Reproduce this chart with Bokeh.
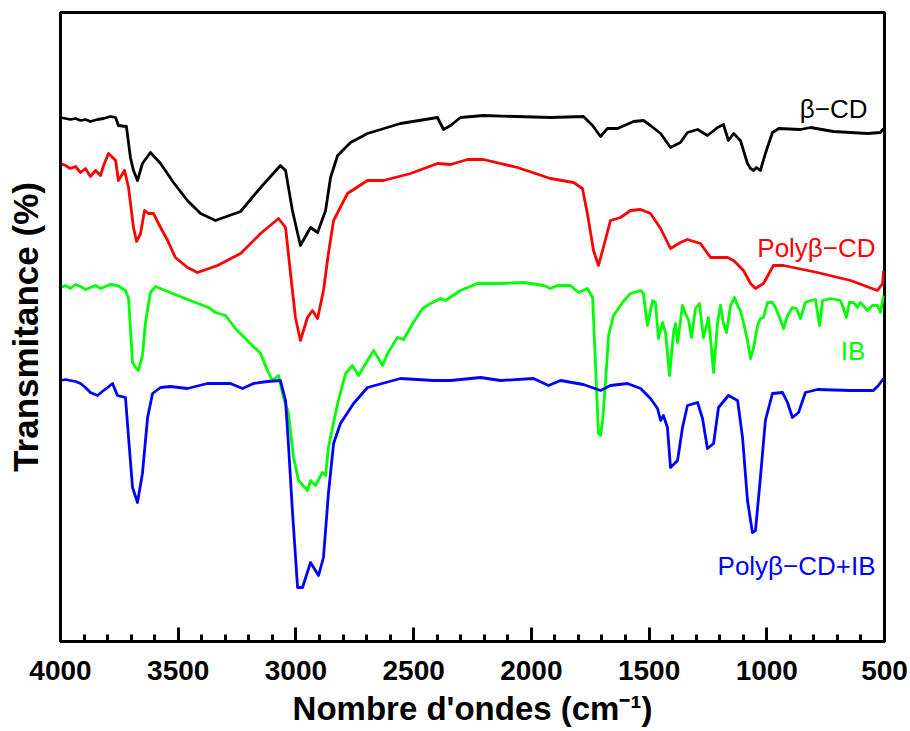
from bokeh.plotting import figure
from bokeh.models import Range1d, SingleIntervalTicker, FixedTicker
from bokeh.core.properties import value
from bokeh.embed import file_html
from bokeh.resources import INLINE

# ---------------- data (wavenumber cm-1, offset transmittance, arbitrary units) ----------------
bcd_wn = [4000, 3979, 3958, 3936, 3915, 3894, 3873, 3843, 3817, 3788, 3766, 3754, 3720, 3703, 3690, 3673,
          3652, 3618, 3575, 3520, 3461, 3405, 3342, 3235, 3150, 3066, 3044, 3015, 2981, 2938, 2908, 2874,
          2853, 2823, 2768, 2696, 2556, 2399, 2373, 2343, 2301, 2203, 1919, 1779, 1740, 1706, 1677, 1634,
          1566, 1524, 1494, 1451, 1409, 1367, 1337, 1294, 1252, 1209, 1184, 1163, 1141, 1112, 1082, 1069,
          1056, 1044, 1027, 1006, 976, 949, 857, 814, 717, 572, 517, 504]
bcd_t = [524, 523, 522, 523, 521, 522, 520, 522, 523, 525, 524, 516, 515, 484, 471, 461,
         478, 489, 478, 459, 441, 428, 421, 430, 454, 476, 471, 431, 396, 414, 409, 431,
         464, 486, 499, 508, 518, 524, 512, 516, 524, 526, 524, 525, 516, 505, 513, 513,
         520, 521, 516, 508, 494, 499, 509, 512, 506, 514, 517, 501, 508, 501, 478, 473,
         471, 474, 471, 488, 509, 513, 512, 514, 510, 508, 509, 513]

poly_wn = [4000, 3979, 3958, 3936, 3915, 3894, 3873, 3851, 3830, 3817, 3796, 3766, 3754, 3728, 3711, 3690,
           3677, 3660, 3643, 3626, 3605, 3575, 3545, 3512, 3461, 3418, 3333, 3235, 3150, 3074, 3044, 3023,
           3002, 2981, 2951, 2930, 2908, 2883, 2862, 2840, 2781, 2696, 2628, 2513, 2399, 2343, 2271, 2203,
           2059, 1919, 1821, 1783, 1762, 1736, 1715, 1694, 1664, 1621, 1579, 1536, 1494, 1451, 1409, 1367,
           1337, 1282, 1239, 1167, 1141, 1099, 1069, 1048, 1014, 972, 929, 785, 644, 530, 508, 504]
poly_t = [478, 476, 473, 475, 469, 473, 465, 471, 466, 476, 488, 481, 461, 471, 454, 414,
          400, 408, 431, 428, 428, 414, 401, 384, 374, 369, 376, 388, 408, 423, 414, 368,
          324, 301, 324, 331, 323, 351, 388, 421, 448, 461, 461, 468, 478, 477, 482, 482,
          474, 463, 459, 453, 428, 391, 376, 394, 421, 424, 431, 432, 428, 413, 393, 399,
          402, 398, 384, 384, 381, 371, 358, 353, 358, 376, 376, 369, 361, 351, 358, 371]

ib_wn = [4000, 3979, 3958, 3936, 3915, 3894, 3873, 3851, 3830, 3809, 3788, 3758, 3724, 3711, 3694, 3677,
         3669, 3652, 3639, 3618, 3596, 3524, 3427, 3371, 3342, 3299, 3257, 3206, 3150, 3121, 3100, 3074,
         3053, 3032, 3010, 2989, 2951, 2938, 2917, 2887, 2874, 2862, 2823, 2789, 2760, 2734, 2696, 2670,
         2632, 2611, 2569, 2543, 2501, 2462, 2428, 2386, 2365, 2301, 2229, 2131, 2033, 1948, 1919, 1889,
         1834, 1800, 1762, 1740, 1728, 1715, 1706, 1698, 1685, 1672, 1651, 1613, 1579, 1536, 1524, 1507,
         1485, 1473, 1460, 1443, 1430, 1413, 1396, 1388, 1379, 1358, 1345, 1332, 1320, 1303, 1286, 1269,
         1256, 1248, 1239, 1226, 1209, 1197, 1184, 1171, 1154, 1137, 1124, 1112, 1099, 1082, 1069, 1056,
         1039, 1027, 1014, 997, 976, 963, 946, 929, 912, 891, 874, 857, 836, 814, 793, 776,
         763, 729, 687, 674, 662, 649, 632, 615, 602, 572, 551, 530, 517, 504]
ib_t = [354, 356, 353, 357, 355, 352, 354, 356, 353, 355, 357, 356, 351, 343, 279, 273,
        271, 286, 319, 349, 355, 348, 339, 334, 329, 326, 313, 301, 288, 271, 261, 266,
        244, 228, 184, 161, 151, 161, 156, 169, 166, 194, 238, 268, 276, 266, 281, 291,
        276, 288, 304, 302, 319, 333, 338, 343, 341, 351, 358, 358, 359, 356, 353, 356,
        356, 349, 353, 344, 279, 208, 206, 219, 259, 306, 326, 339, 348, 351, 348, 316,
        341, 339, 303, 319, 309, 266, 309, 318, 299, 336, 328, 321, 304, 333, 338, 304,
        316, 324, 303, 269, 319, 336, 318, 309, 336, 344, 336, 331, 319, 301, 283, 294,
        316, 323, 324, 339, 339, 334, 324, 313, 326, 334, 333, 323, 339, 341, 342, 316,
        341, 343, 341, 333, 324, 339, 339, 334, 339, 331, 336, 336, 329, 346]

pib_wn = [4000, 3979, 3958, 3936, 3915, 3894, 3873, 3843, 3817, 3800, 3779, 3758, 3724, 3711, 3694, 3673,
          3652, 3630, 3609, 3575, 3533, 3461, 3376, 3278, 3227, 3180, 3121, 3066, 3044, 3032, 3015, 2993,
          2972, 2938, 2904, 2883, 2862, 2840, 2811, 2755, 2696, 2556, 2416, 2343, 2216, 2131, 1991, 1927,
          1876, 1779, 1706, 1664, 1592, 1536, 1494, 1464, 1451, 1439, 1422, 1409, 1379, 1358, 1337, 1294,
          1273, 1252, 1226, 1205, 1163, 1124, 1103, 1082, 1061, 1048, 1027, 1006, 976, 933, 912, 891,
          865, 836, 785, 644, 547, 526, 504]
pib_t = [261, 262, 261, 260, 258, 254, 249, 246, 251, 254, 258, 246, 244, 204, 154, 139,
         168, 224, 248, 254, 255, 253, 258, 258, 253, 258, 260, 261, 241, 198, 131, 54,
         54, 79, 66, 84, 148, 198, 218, 238, 254, 263, 261, 261, 264, 261, 263, 256,
         261, 257, 251, 256, 258, 253, 243, 233, 221, 226, 214, 174, 181, 214, 236, 239,
         223, 193, 198, 234, 246, 241, 204, 141, 109, 111, 164, 221, 248, 249, 239, 224,
         229, 249, 252, 251, 251, 256, 263]

series_names = ["\u03b2\u2212CD", "Poly\u03b2\u2212CD", "IB", "Poly\u03b2\u2212CD+IB"]
series_colors = ["#000000", "#ff0000", "#00ff00", "#0000ff"]
x_title = "Nombre d'ondes (cm\u207b\u00b9)"
y_title = "Transmitance (%)"

# ---------------- figure ----------------
p = figure(width=910, height=731, output_backend="svg", toolbar_location=None,
           x_range=Range1d(4000, 500), y_range=Range1d(0, 629),
           min_border_left=60, min_border_right=26, min_border_top=12, min_border_bottom=90)
p.grid.visible = False
p.outline_line_color = "black"
p.outline_line_width = 3
p.background_fill_color = "white"
p.border_fill_color = "white"

FONT = "Liberation Sans"

# x axis
xa = p.xaxis[0]
xa.ticker = SingleIntervalTicker(interval=500, num_minor_ticks=5)
xa.axis_line_width = 3
xa.major_tick_in = 14
xa.major_tick_out = 0
xa.minor_tick_in = 7
xa.minor_tick_out = 0
xa.major_tick_line_width = 3
xa.minor_tick_line_width = 3
xa.major_label_text_font = FONT
xa.major_label_text_font_style = "bold"
xa.major_label_text_font_size = "28px"
xa.major_label_text_color = "black"
xa.major_label_standoff = 19
xa.axis_label = x_title
xa.axis_label_text_font = FONT
xa.axis_label_text_font_style = "bold"
xa.axis_label_text_font_size = "33px"
xa.axis_label_text_color = "black"
xa.axis_label_standoff = 7

# y axis (no ticks, no labels)
ya = p.yaxis[0]
ya.ticker = FixedTicker(ticks=[])
ya.axis_line_width = 3
ya.major_tick_line_color = None
ya.minor_tick_line_color = None
ya.major_label_standoff = 0
ya.axis_label = y_title
ya.axis_label_text_font = FONT
ya.axis_label_text_font_style = "bold"
ya.axis_label_text_font_size = "35px"
ya.axis_label_text_color = "black"
ya.axis_label_standoff = 16

# curves
xs = [bcd_wn, poly_wn, ib_wn, pib_wn]
ys = [bcd_t, poly_t, ib_t, pib_t]
for x, y, c in zip(xs, ys, series_colors):
    p.line(x, y, line_color=c, line_width=2.8, line_join="round")

# curve labels (right aligned near the right edge)
label_x = [572, 538, 581, 538]
label_y = [533, 394, 291, 76]
p.text(x=label_x, y=label_y, text=series_names, text_color=series_colors,
       text_font=value(FONT), text_font_size="26px", text_align="right", text_baseline="alphabetic")

open("out.html", "w").write(file_html(p, INLINE))
